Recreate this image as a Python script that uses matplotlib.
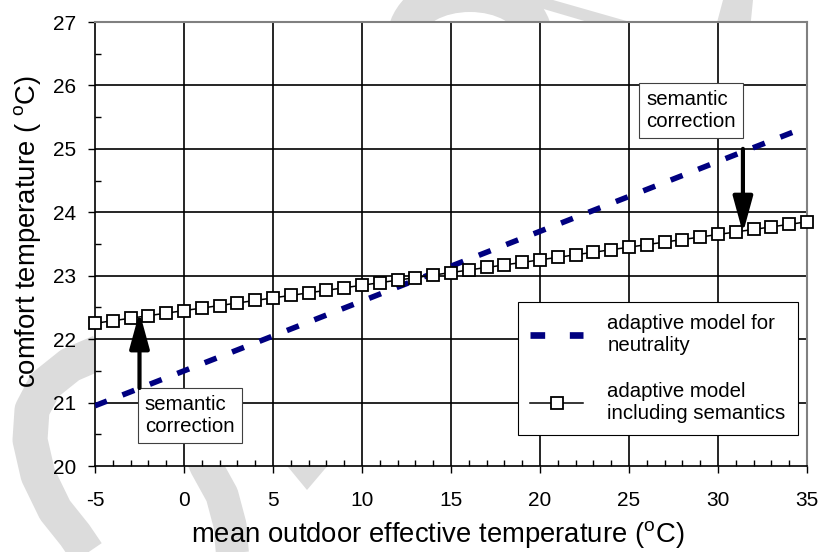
import matplotlib
matplotlib.use('Agg')
import matplotlib.pyplot as plt
from matplotlib.patches import Polygon, Ellipse
from matplotlib.lines import Line2D
from matplotlib.ticker import MultipleLocator

plt.rcParams['font.family'] = ['Liberation Sans', 'DejaVu Sans']
plt.rcParams['mathtext.fontset'] = 'custom'
plt.rcParams['mathtext.rm'] = 'Liberation Sans'
plt.rcParams['axes.unicode_minus'] = False

# mean outdoor effective temperature, one point per degree
t_out = list(range(-5, 36))
# comfort temperature, adaptive model including semantics
t_sem = [22.25, 22.29, 22.33, 22.37, 22.41, 22.45, 22.49, 22.53, 22.57, 22.61,
         22.65, 22.69, 22.73, 22.77, 22.81, 22.85, 22.89, 22.93, 22.97, 23.01,
         23.05, 23.09, 23.13, 23.17, 23.21, 23.25, 23.29, 23.33, 23.37, 23.41,
         23.45, 23.49, 23.53, 23.57, 23.61, 23.65, 23.69, 23.73, 23.77, 23.81,
         23.85]
# adaptive model for neutrality
t_neu_x = [-5, 0, 5, 10, 15, 20, 25, 30, 35]
t_neu = [20.95, 21.50, 22.05, 22.60, 23.15, 23.70, 24.25, 24.80, 25.35]

# semantic correction arrows: x, start, end
corr_x = [-2.5, 31.4]
corr_from = [21.23, 25.0]
corr_to = [22.43, 23.67]

label_neu = 'adaptive model for\nneutrality'
label_sem = 'adaptive model\nincluding semantics'

navy = '#000080'
fs_small = 14.7

fig = plt.figure(figsize=(8.22, 5.52), dpi=100)

# light grey logo behind the chart (pixel coordinates)
bg = fig.add_axes([0, 0, 1, 1], zorder=0)
bg.set_xlim(0, 822)
bg.set_ylim(552, 0)
bg.axis('off')
wm = '#dcdcdc'
bg.plot([100, 70, 45, 32, 30, 38, 55, 75, 92],
        [352, 365, 385, 410, 440, 475, 510, 535, 560],
        color=wm, lw=35 * 0.72, solid_capstyle='butt', solid_joinstyle='round')
bg.plot([195, 206, 222, 230, 233], [440, 466, 495, 525, 560],
        color=wm, lw=33 * 0.72, solid_capstyle='butt', solid_joinstyle='round')
bg.add_patch(Polygon([(274, 450), (341, 450), (307, 490)], color=wm, lw=0))
bg.add_patch(Ellipse((470, 40), 166, 135, color=wm, lw=0))
bg.add_patch(Ellipse((470, 40), 97, 56, color='white', lw=0))
bg.add_patch(Polygon([(513, 0), (553, 0), (658, 30), (615, 30)], color=wm, lw=0))
bg.add_patch(Polygon([(723, 0), (753, 0), (750, 30), (715, 30)], color=wm, lw=0))

ax = fig.add_axes([95 / 822, 86 / 552, 712 / 822, 444 / 552], zorder=1)
ax.set_facecolor('white')
ax.set_xlim(-5, 35)
ax.set_ylim(20, 27)

for v in range(0, 35, 5):
    ax.axvline(v, color='black', lw=1.2, zorder=1)
for v in range(21, 27):
    ax.axhline(v, color='black', lw=1.2, zorder=1)

ax.plot(t_neu_x, t_neu, color=navy, lw=4.0, dashes=(2.3, 3.0),
        dash_capstyle='butt', zorder=3)
sem_line, = ax.plot(t_out, t_sem, color='black', lw=1.1, marker='s', ms=8,
                    mfc='white', mec='black', mew=1.3, zorder=4, clip_on=False)

for x, y0, y1 in zip(corr_x, corr_from, corr_to):
    ax.annotate('', xy=(x, y1), xytext=(x, y0), zorder=6,
                arrowprops=dict(arrowstyle='-|>,head_length=2.2,head_width=0.6',
                                color='black', lw=3, shrinkA=0, shrinkB=0,
                                mutation_scale=10))

box = dict(boxstyle='square,pad=0.35', fc='white', ec='#404040', lw=0.8)
ax.text(-2.20, 21.12, 'semantic\ncorrection', fontsize=fs_small, ha='left', va='top',
        bbox=box, zorder=5)
ax.text(25.96, 25.93, 'semantic\ncorrection', fontsize=fs_small, ha='left', va='top',
        bbox=box, zorder=5)

ax.xaxis.set_major_locator(MultipleLocator(5))
ax.xaxis.set_minor_locator(MultipleLocator(1))
ax.yaxis.set_major_locator(MultipleLocator(1))
ax.yaxis.set_minor_locator(MultipleLocator(0.5))
ax.tick_params(which='major', direction='out', length=5, width=1.0,
               labelsize=15, top=False, right=False)
ax.tick_params(axis='y', which='major', pad=8.5)
ax.tick_params(axis='x', which='major', pad=13)
ax.tick_params(which='minor', direction='in', length=4, width=1.0,
               top=False, right=False)

for s in ['left', 'bottom']:
    ax.spines[s].set_color('black')
    ax.spines[s].set_linewidth(1.2)
for s in ['top', 'right']:
    ax.spines[s].set_color('#808080')
    ax.spines[s].set_linewidth(1.5)

ax.set_xlabel('mean outdoor effective temperature ($^{\\mathrm{o}}$C)', fontsize=19.8)
ax.set_ylabel('comfort temperature ( $^{\\mathrm{o}}$C)', fontsize=19.8)
ax.xaxis.label.set_va('baseline')
ax.xaxis.set_label_coords(0.481, -0.1734)
ax.yaxis.label.set_va('baseline')
ax.yaxis.set_label_coords(-0.0829, 0.529)

neu_handle = Line2D([], [], color=navy, lw=4.8, dashes=(2.2, 3.7),
                    dash_capstyle='butt')
leg = ax.legend([neu_handle, sem_line], [label_neu, label_sem],
                loc='upper left', bbox_to_anchor=(0.594, 0.369), fontsize=fs_small,
                frameon=True, fancybox=False, edgecolor='black', framealpha=1,
                handlelength=2.6, handletextpad=1.18, labelspacing=1.3,
                borderpad=0.6, borderaxespad=0)
leg.get_frame().set_linewidth(0.8)
leg.set_zorder(7)

fig.savefig('out.png', dpi=100)
